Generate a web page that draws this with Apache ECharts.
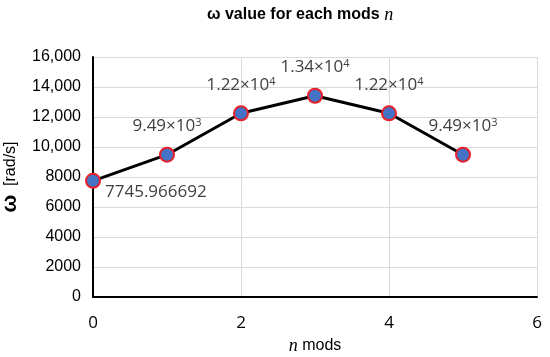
<!DOCTYPE html>
<html>
<head>
<meta charset="utf-8">
<script src="https://cdn.jsdelivr.net/npm/echarts@6/dist/echarts.min.js"></script>
<style>html,body{margin:0;padding:0;background:#fff;}#c{width:550px;height:357px;}</style>
</head>
<body>
<div id="c"></div>
<script>
const modes = [0, 1, 2, 3, 4, 5];
const omegaValues = [7745.966692, 9486.83, 12247.45, 13416.41, 12247.45, 9486.83];
const xTicks = [0, 2, 4, 6];
const yTicks = [0, 2000, 4000, 6000, 8000, 10000, 12000, 14000, 16000];
const titleText = 'ω value for each mods ';
const titleVar = 'n';

function sciLabel(v, i) {
  if (i === 0) return '{b|' + String(v) + '}';
  const e = Math.floor(Math.log10(v));
  const m = (v / Math.pow(10, e)).toFixed(2);
  return '{b|' + m + '×10}{s|' + e + '}';
}

const chart = echarts.init(document.getElementById('c'));
chart.setOption({
  animation: false,
  backgroundColor: '#fff',
  graphic: [{
    type: 'text', x: 207, y: 5, z: 10,
    style: {
      text: '{w|' + titleText + '}{n|' + titleVar + '}',
      rich: {
        w: {fontFamily: 'Liberation Sans', fontWeight: 'bold', fontSize: 16, fill: '#000', lineHeight: 20},
        n: {fontFamily: 'Liberation Serif', fontStyle: 'italic', fontSize: 18, fill: '#000', lineHeight: 20}
      }
    }
  }],
  grid: {left: 93, right: 13, top: 57, bottom: 60, containLabel: false, outerBoundsMode: 'none'},
  xAxis: {
    type: 'value', min: xTicks[0], max: xTicks[xTicks.length - 1], interval: 2,
    name: '{n|n} {m|mods}', nameLocation: 'middle', nameGap: 37,
    nameTextStyle: {
      fontFamily: 'Liberation Sans', fontSize: 16, color: '#000',
      rich: {
        n: {fontFamily: 'Liberation Serif', fontStyle: 'italic', fontSize: 18, color: '#000'},
        m: {fontFamily: 'Liberation Sans', fontSize: 16, color: '#000'}
      }
    },
    axisLine: {show: true, onZero: false, lineStyle: {color: '#000', width: 2}},
    axisTick: {show: false},
    axisLabel: {fontFamily: 'Open Sans', fontSize: 17, color: '#000', margin: 18},
    splitLine: {show: true, lineStyle: {color: '#d9d9d9', width: 1}}
  },
  yAxis: {
    type: 'value', min: yTicks[0], max: yTicks[yTicks.length - 1], interval: 2000,
    name: '{w|ω}  {r|[rad/s]}', nameLocation: 'middle', nameGap: 61, nameRotate: 90,
    nameTextStyle: {
      fontFamily: 'Liberation Sans', fontSize: 16, color: '#000',
      rich: {
        w: {fontFamily: 'Liberation Sans', fontWeight: 'bold', fontSize: 21, color: '#000'},
        r: {fontFamily: 'Liberation Sans', fontSize: 16, color: '#000'}
      }
    },
    axisLine: {show: true, onZero: false, lineStyle: {color: '#000', width: 2}},
    axisTick: {show: false},
    axisLabel: {
      fontFamily: 'Liberation Sans', fontSize: 16, color: '#000', margin: 12,
      formatter: v => v >= 10000 ? v.toLocaleString('en-US') : String(v)
    },
    splitLine: {show: true, lineStyle: {color: '#d9d9d9', width: 1}}
  },
  series: [{
    type: 'line',
    data: modes.map((m, i) => {
      const d = {value: [m, omegaValues[i]]};
      if (i === 0) d.label = {position: 'right', distance: 4, offset: [0, 13]};
      return d;
    }),
    lineStyle: {color: '#000', width: 3},
    symbol: 'circle', symbolSize: 14,
    itemStyle: {color: '#4472C4', borderColor: '#E8202A', borderWidth: 2},
    label: {
      show: true, position: 'top', distance: 9,
      formatter: p => sciLabel(omegaValues[p.dataIndex], p.dataIndex),
      rich: {
        b: {fontFamily: 'Open Sans', fontSize: 17, color: '#404040', verticalAlign: 'top', lineHeight: 20},
        s: {fontFamily: 'Open Sans', fontSize: 11, color: '#404040', verticalAlign: 'top', lineHeight: 20}
      }
    },
    z: 3
  }]
});
</script>
</body>
</html>
